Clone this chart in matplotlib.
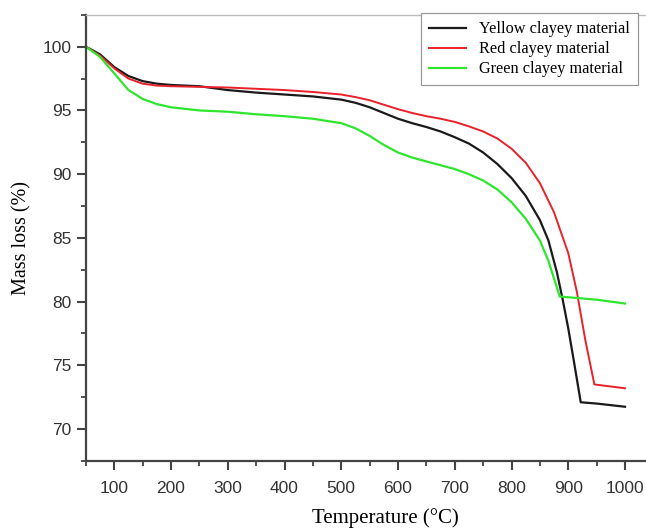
import matplotlib
matplotlib.use("Agg")
import matplotlib.pyplot as plt
from matplotlib.ticker import MultipleLocator

# temperatures (°C) and mass (%)
t_yellow = [50, 75, 100, 125, 150, 175, 200, 250, 300, 350, 400, 450, 500, 525, 550, 575,
            600, 625, 650, 675, 700, 725, 750, 775, 800, 825, 850, 865, 880, 890, 900, 910,
            922, 950, 1000]
m_yellow = [100.0, 99.4, 98.4, 97.7, 97.3, 97.1, 97.0, 96.9, 96.6, 96.4, 96.25, 96.1, 95.85,
            95.6, 95.25, 94.8, 94.35, 94.0, 93.7, 93.35, 92.9, 92.4, 91.7, 90.8, 89.7, 88.3,
            86.4, 84.8, 82.3, 80.2, 77.9, 75.3, 72.1, 72.0, 71.75]

t_red = [50, 75, 100, 125, 150, 175, 200, 250, 300, 350, 400, 450, 500, 525, 550, 575, 600,
         625, 650, 675, 700, 725, 750, 775, 800, 825, 850, 875, 900, 915, 930, 946, 1000]
m_red = [100.0, 99.3, 98.3, 97.5, 97.1, 96.95, 96.9, 96.85, 96.8, 96.7, 96.6, 96.45, 96.25,
         96.05, 95.8, 95.45, 95.1, 94.8, 94.55, 94.35, 94.1, 93.75, 93.35, 92.8, 92.0, 90.9,
         89.3, 87.0, 83.8, 80.8, 77.0, 73.5, 73.2]

t_green = [50, 75, 100, 125, 150, 175, 200, 250, 300, 350, 400, 450, 500, 525, 550, 575, 600,
           625, 650, 675, 700, 725, 750, 775, 800, 825, 850, 865, 875, 885, 950, 1000]
m_green = [100.0, 99.2, 97.9, 96.6, 95.9, 95.5, 95.25, 95.0, 94.9, 94.7, 94.55, 94.35, 94.0,
           93.6, 93.0, 92.3, 91.7, 91.3, 91.0, 90.7, 90.4, 90.0, 89.5, 88.8, 87.8, 86.5, 84.8,
           83.2, 81.8, 80.4, 80.15, 79.85]

serif = "Liberation Serif"
sans = "Liberation Sans"

fig = plt.figure(figsize=(6.46, 5.31), dpi=100)
ax = fig.add_axes([0.133, 0.132, 0.867, 0.840])

ax.plot(t_yellow, m_yellow, color="#1a1a1a", lw=1.6, label="Yellow clayey material")
ax.plot(t_red, m_red, color="#e8212a", lw=1.4, label="Red clayey material")
ax.plot(t_green, m_green, color="#2ee62e", lw=1.6, label="Green clayey material")

ax.set_xlim(50, 1037)
ax.set_ylim(67.5, 102.5)
ax.xaxis.set_major_locator(MultipleLocator(100))
ax.xaxis.set_minor_locator(MultipleLocator(50))
ax.yaxis.set_major_locator(MultipleLocator(5))
ax.yaxis.set_minor_locator(MultipleLocator(2.5))
ax.set_xticks(range(100, 1001, 100))

for s in ["left", "bottom"]:
    ax.spines[s].set_color("#444444")
    ax.spines[s].set_linewidth(1.6)
ax.spines["top"].set_color("#bbbbbb")
ax.spines["top"].set_linewidth(1.0)
ax.spines["right"].set_visible(False)

ax.tick_params(axis="x", which="major", pad=8)
ax.tick_params(which="major", direction="out", length=6.5, width=1.5, color="#444444",
               labelsize=12.5)
ax.tick_params(axis="y", which="major", pad=4)
ax.tick_params(which="minor", direction="out", length=3.5, width=1.3, color="#444444")
ax.tick_params(top=False, right=False, which="both")
for lab in ax.get_xticklabels() + ax.get_yticklabels():
    lab.set_family(sans)
    lab.set_color("#333333")

ax.set_xlabel("Temperature (°C)", family=serif, fontsize=15, labelpad=6)
ax.xaxis.set_label_coords(0.534, -0.105)
ax.set_ylabel("Mass loss (%)", family=serif, fontsize=14.5, labelpad=8)

leg = ax.legend(loc="upper left", bbox_to_anchor=(0.598, 1.004), prop={"family": serif, "size": 11.7},
                fancybox=False, framealpha=1, edgecolor="#999999", handlelength=2.3,
                labelspacing=0.25, borderpad=0.5, handletextpad=0.75, borderaxespad=0.0)
leg.get_frame().set_linewidth(0.9)

fig.savefig("out.png", dpi=100)
